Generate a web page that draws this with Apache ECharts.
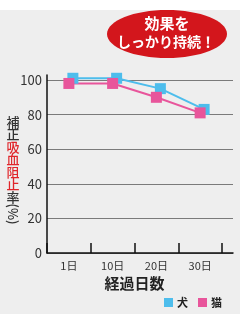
<!DOCTYPE html>
<html>
<head>
<meta charset="utf-8">
<script src="https://cdn.jsdelivr.net/npm/echarts@6/dist/echarts.min.js"></script>
<style>
  html, body { margin: 0; padding: 0; background: #eeeeee; }
  #chart { width: 240px; height: 314px; }
</style>
</head>
<body>
<div id="chart"></div>
<script>
const categories = ['1日', '10日', '20日', '30日'];
const dogValues = [101, 101, 95, 83];
const catValues = [98, 98, 90, 81];
const yTicks = [0, 20, 40, 60, 80, 100];

const FONT = '"Noto Sans CJK JP", sans-serif';
const BLUE = '#4dbdec';
const PINK = '#e8559b';

var myChart = echarts.init(document.getElementById('chart'));

// y軸ラベル（縦書き）
var yLabelChars = [
  { c: '補', red: false }, { c: '正', red: false },
  { c: '吸', red: true }, { c: '血', red: true }, { c: '阻', red: true }, { c: '止', red: true },
  { c: '率', red: false }
];
var yLabelGraphics = yLabelChars.map((ch, i) => ({
  type: 'text',
  x: 13,
  y: 122 + i * 12.5,
  style: {
    text: ch.c,
    fill: ch.red ? '#e0262b' : '#333333',
    font: '500 13px ' + FONT,
    align: 'center',
    verticalAlign: 'middle'
  }
}));
yLabelGraphics.push({
  type: 'text',
  x: 13,
  y: 214,
  rotation: -Math.PI / 2,
  style: {
    text: '(%)',
    fill: '#333333',
    font: '500 13px ' + FONT,
    align: 'center',
    verticalAlign: 'middle'
  }
});

var hidden = { show: false };

var option = {
  backgroundColor: '#eeeeee',
  animation: false,
  grid: [
    { left: 47, right: 7, top: 80, bottom: 61 },   // 目盛り・格子
    { left: 47, right: 7, top: 75, bottom: 61 },   // y軸線
    { left: 47, right: 18, top: 80, bottom: 61 },  // 猫
    { left: 51, right: 14, top: 80, bottom: 61 }   // 犬
  ],
  xAxis: [
    {
      gridIndex: 0, type: 'value', min: 0, max: 1,
      axisLine: { show: true, lineStyle: { color: '#111', width: 1.5 } },
      axisTick: hidden, axisLabel: hidden, splitLine: hidden
    },
    { gridIndex: 1, type: 'value', min: 0, max: 1, show: false },
    {
      gridIndex: 2, type: 'category', data: categories,
      axisLine: hidden,
      axisTick: { show: true, inside: true, length: 10, lineStyle: { color: '#111', width: 1.5 } },
      axisLabel: { color: '#333', fontSize: 11, fontFamily: FONT, margin: 7 },
      name: '経過日数',
      nameLocation: 'middle',
      nameGap: 23,
      nameTextStyle: { color: '#222', fontSize: 15, fontWeight: 'bold', fontFamily: FONT }
    },
    { gridIndex: 3, type: 'category', data: categories, show: false }
  ],
  yAxis: [
    {
      gridIndex: 0, type: 'value', min: yTicks[0], max: yTicks[yTicks.length - 1], interval: 20,
      axisLine: hidden, axisTick: hidden,
      axisLabel: { color: '#333', fontSize: 13, fontFamily: FONT, margin: 5 },
      splitLine: { show: true, lineStyle: { color: '#7a7a7a', width: 1 } }
    },
    {
      gridIndex: 1, type: 'value', min: 0, max: 1,
      axisLine: { show: true, lineStyle: { color: '#111', width: 1.5 } },
      axisTick: hidden, axisLabel: hidden, splitLine: hidden
    },
    { gridIndex: 2, type: 'value', min: 0, max: 100, show: false },
    { gridIndex: 3, type: 'value', min: 0, max: 100, show: false }
  ],
  legend: {
    data: ['犬', '猫'],
    left: 159,
    top: 292,
    itemWidth: 9,
    itemHeight: 9,
    itemGap: 10,
    icon: 'rect',
    textStyle: { color: '#222', fontSize: 11, fontWeight: 'bold', fontFamily: FONT, padding: [0, 0, 0, -1] }
  },
  series: [
    {
      name: '犬', type: 'line', xAxisIndex: 3, yAxisIndex: 3,
      data: dogValues, clip: false,
      symbol: 'rect', symbolSize: 11,
      lineStyle: { color: BLUE, width: 2 },
      itemStyle: { color: BLUE }
    },
    {
      name: '猫', type: 'line', xAxisIndex: 2, yAxisIndex: 2,
      data: catValues, clip: false,
      symbol: 'rect', symbolSize: 11,
      lineStyle: { color: PINK, width: 2 },
      itemStyle: { color: PINK }
    }
  ],
  graphic: [
    { type: 'rect', shape: { x: 0, y: 0, width: 240, height: 10 }, style: { fill: '#ffffff' }, z: -1 },
    {
      type: 'ellipse', shape: { cx: 167, cy: 34, rx: 60, ry: 24 },
      style: { fill: '#d3161c' }
    },
    {
      type: 'text', x: 167, y: 23,
      style: { text: '効果を', fill: '#ffffff', font: 'bold 15px ' + FONT, align: 'center', verticalAlign: 'middle' }
    },
    {
      type: 'text', x: 166, y: 42,
      style: { text: 'しっかり持続！', fill: '#ffffff', font: 'bold 14px ' + FONT, align: 'center', verticalAlign: 'middle' }
    }
  ].concat(yLabelGraphics)
};

myChart.setOption(option);
</script>
</body>
</html>
